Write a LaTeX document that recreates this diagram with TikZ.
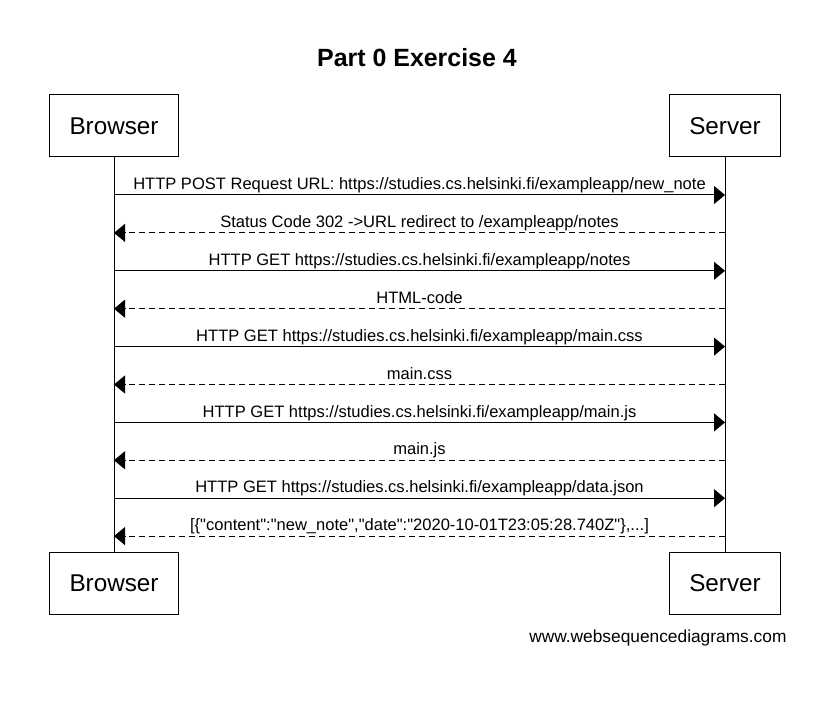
\documentclass[tikz,border=0pt]{standalone}
\usepackage{fontspec}
\setmainfont{Liberation Sans}[Ligatures=TeXOff]
\usetikzlibrary{arrows.meta}

\newcommand{\actorfont}{\fontsize{18.2}{20}\selectfont}
\newcommand{\msgfont}{\fontsize{12.4}{14}\selectfont}

\begin{document}
\begin{tikzpicture}[x=0.75pt,y=-0.75pt,line width=0.75pt,
        msg/.style={-{Triangle[length=8.25pt,width=13.5pt]}},
        reply/.style={msg,dash pattern=on 4.5pt off 3pt},
        lbl/.style={anchor=base,yshift=4pt,inner sep=0pt,font=\msgfont}]
    \useasboundingbox (0,0) rectangle (833,713);

    \node (T) at (417,66.7) [anchor=base,font=\fontsize{18.7}{22}\selectfont\bfseries]{Part 0 Exercise 4};

    \begin{scope}[every node/.style={draw,line width=0.75pt,inner xsep=15pt,
                    minimum height=46.5pt,font=\actorfont}]
        \node (B1) at (114,126) {Browser};
        \node (S1) at (725,126) {Server};
        \node (B2) at (114,583) {Browser};
        \node (S2) at (725,583) {Server};
    \end{scope}

    \path (B1) edge (B2);
    \path (S1) edge (S2);

    \coordinate (b1) at (114,195);   \coordinate (s1) at (725,195);
    \coordinate (b2) at (114,232.9); \coordinate (s2) at (725,232.9);
    \coordinate (b3) at (114,270.8); \coordinate (s3) at (725,270.8);
    \coordinate (b4) at (114,308.7); \coordinate (s4) at (725,308.7);
    \coordinate (b5) at (114,346.6); \coordinate (s5) at (725,346.6);
    \coordinate (b6) at (114,384.5); \coordinate (s6) at (725,384.5);
    \coordinate (b7) at (114,422.4); \coordinate (s7) at (725,422.4);
    \coordinate (b8) at (114,460.3); \coordinate (s8) at (725,460.3);
    \coordinate (b9) at (114,498.2); \coordinate (s9) at (725,498.2);
    \coordinate (b10) at (114,536.1); \coordinate (s10) at (725,536.1);

    \path (b1) edge [msg] node [lbl] {HTTP POST Request URL: https://studies.cs.helsinki.fi/exampleapp/new\_note} (s1);
    \path (s2) edge [reply] node [lbl] {Status Code 302 ->URL redirect to /exampleapp/notes} (b2);
    \path (b3) edge [msg] node [lbl] {HTTP GET https://studies.cs.helsinki.fi/exampleapp/notes} (s3);
    \path (s4) edge [reply] node [lbl] {HTML-code} (b4);
    \path (b5) edge [msg] node [lbl] {HTTP GET https://studies.cs.helsinki.fi/exampleapp/main.css} (s5);
    \path (s6) edge [reply] node [lbl] {main.css} (b6);
    \path (b7) edge [msg] node [lbl] {HTTP GET https://studies.cs.helsinki.fi/exampleapp/main.js} (s7);
    \path (s8) edge [reply] node [lbl] {main.js} (b8);
    \path (b9) edge [msg] node [lbl] {HTTP GET https://studies.cs.helsinki.fi/exampleapp/data.json} (s9);
    \path (s10) edge [reply] node [lbl] {[\{"content":"new\_note","date":"2020-10-01T23:05:28.740Z"\},...]} (b10);

    \node (W) at (787,642) [anchor=base east,inner sep=0pt,font=\fontsize{13}{15}\selectfont]{www.websequencediagrams.com};
\end{tikzpicture}
\end{document}
